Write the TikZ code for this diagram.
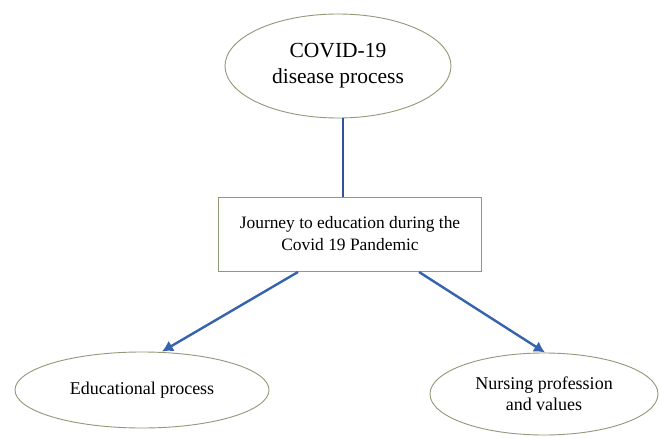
\documentclass[tikz,border=0pt]{standalone}
\usepackage{fontspec}
\setmainfont{Liberation Serif}
\usetikzlibrary{shapes.geometric,arrows.meta}
\definecolor{outl}{HTML}{8E9A78}
\definecolor{arr}{HTML}{3563AE}
\definecolor{vline}{HTML}{2F5597}
\tikzset{
  oval/.style={ellipse, draw=outl, line width=0.9pt, inner sep=0pt, align=center, font=\fontsize{18}{21}\selectfont},
  boxnode/.style={rectangle, draw=outl, line width=0.9pt, inner sep=0pt, align=center, font=\fontsize{17.4}{22}\selectfont},
  link/.style={draw=arr, line width=2.4pt, -{Latex[length=11pt,width=12pt]}},
}
\begin{document}
\begin{tikzpicture}[x=1pt,y=-1pt]
\useasboundingbox[fill=white] (0,0) rectangle (660,438);
\node[oval, minimum width=226pt, minimum height=104pt, font=\fontsize{21.5}{26}\selectfont] (covid) at (338,66) {COVID-19\\disease process};
\node[boxnode, minimum width=263pt, minimum height=74pt] (journey) at (350,234) {Journey to education during the\\Covid 19 Pandemic};
\node[oval, minimum width=254pt, minimum height=76pt] (edu) at (142,390) {Educational process};
\node[oval, minimum width=228pt, minimum height=82pt] (nurs) at (544,394) {Nursing profession\\and values};
\draw[draw=vline, line width=1.8pt] (covid.south -| 343,0) -- (journey.north -| 343,0);
\coordinate (s1) at (298,272);
\coordinate (s2) at (419,272);
\draw[link] (s1) -- (edu.north -| 162,0);
\draw[link] (s2) -- (nurs.north -| 545,0);
\end{tikzpicture}
\end{document}
